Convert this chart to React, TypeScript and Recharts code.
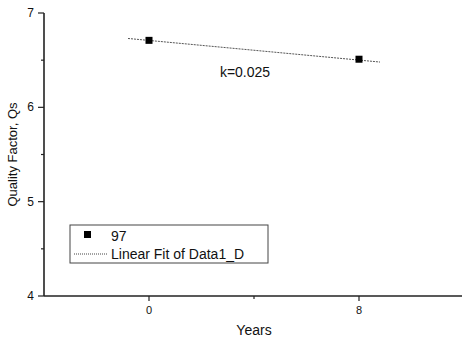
import { ComposedChart, Scatter, Line, XAxis, YAxis, Customized, Label } from "recharts";

// measured points (Years vs Qs)
const years = [0, 8];
const qs = [6.71, 6.51];

// linear fit line end points
const fitYears = [-0.8, 8.8];
const fitQs = [6.73, 6.48];

const xTicks = [0, 4, 8];
const xTickLabels = ["0", "", "8"];
const yTicks = [4, 4.5, 5, 5.5, 6, 6.5, 7];
const yTickLabels = ["4", "", "5", "", "6", "", "7"];

const points = years.map((x, i) => ({ x, y: qs[i] }));
const fit = fitYears.map((x, i) => ({ x, y: fitQs[i] }));

const font = "'Liberation Sans', Arial, sans-serif";

const XTick = (props: any) => {
  const { x, y, payload } = props;
  const i = xTicks.indexOf(payload.value);
  const label = xTickLabels[i];
  return (
    <g>
      <line x1={x} x2={x} y1={y} y2={y + (label ? 5 : 3)} stroke="#222" strokeWidth={1.2} />
      {label && (
        <text x={x} y={y + 18} textAnchor="middle" fontSize={11} fontFamily={font} fill="#111">
          {label}
        </text>
      )}
    </g>
  );
};

const YTick = (props: any) => {
  const { x, y, payload } = props;
  const i = yTicks.indexOf(payload.value);
  const label = yTickLabels[i];
  return (
    <g>
      <line x1={x - (label ? 6 : 3)} x2={x} y1={y} y2={y} stroke="#222" strokeWidth={1.2} />
      {label && (
        <text x={x - 10} y={y + 4} textAnchor="end" fontSize={12} fontFamily={font} fill="#111">
          {label}
        </text>
      )}
    </g>
  );
};

const Square = (props: any) => {
  const { cx, cy } = props;
  return <rect x={cx - 3.5} y={cy - 3.5} width={7} height={7} fill="#000" />;
};

const LegendBox = () => (
  <g fontFamily={font} fontSize={14} fill="#111">
    <rect x={70} y={225} width={198} height={38} fill="#fff" stroke="#444" strokeWidth={1} />
    <rect x={84} y={231} width={7} height={7} fill="#000" />
    <text x={111} y={241}>97</text>
    <line x1={74} x2={108} y1={254} y2={254} stroke="#444" strokeWidth={1} strokeDasharray="1 1" />
    <text x={111} y={259}>Linear Fit of Data1_D</text>
  </g>
);

export default function App() {
  return (
    <div style={{ position: "absolute", left: 0, top: 0, background: "#fff" }}>
      <ComposedChart width={462} height={339} margin={{ top: 13, right: -2, bottom: 0, left: 0 }}>
        <XAxis
          type="number"
          dataKey="x"
          domain={[-4, 12]}
          ticks={xTicks}
          tick={<XTick />}
          tickLine={false}
          tickSize={0}
          tickMargin={0}
          height={43}
          axisLine={{ stroke: "#222", strokeWidth: 1.6 }}
          allowDataOverflow
        >
          <Label value="Years" position="insideBottom" offset={4} style={{ fontSize: 14, fontFamily: font, fill: "#111" }} />
        </XAxis>
        <YAxis
          type="number"
          dataKey="y"
          domain={[4, 7]}
          ticks={yTicks}
          tick={<YTick />}
          tickLine={false}
          tickSize={0}
          tickMargin={0}
          width={44}
          axisLine={{ stroke: "#222", strokeWidth: 1.6 }}
          allowDataOverflow
        >
          <Label
            value="Quality Factor, Qs"
            angle={-90}
            position="insideLeft"
            offset={12}
            style={{ fontSize: 13, fontFamily: font, fill: "#111", textAnchor: "middle" }}
          />
        </YAxis>
        <Line
          data={fit}
          dataKey="y"
          type="linear"
          stroke="#555"
          strokeWidth={1}
          strokeDasharray="2 1"
          dot={false}
          isAnimationActive={false}
        />
        <Scatter data={points} dataKey="y" shape={<Square />} isAnimationActive={false} />
        <Customized
          component={() => (
            <text x={245} y={77} textAnchor="middle" fontSize={14} fontFamily={font} fill="#111">
              k=0.025
            </text>
          )}
        />
        <Customized component={LegendBox} />
      </ComposedChart>
    </div>
  );
}
